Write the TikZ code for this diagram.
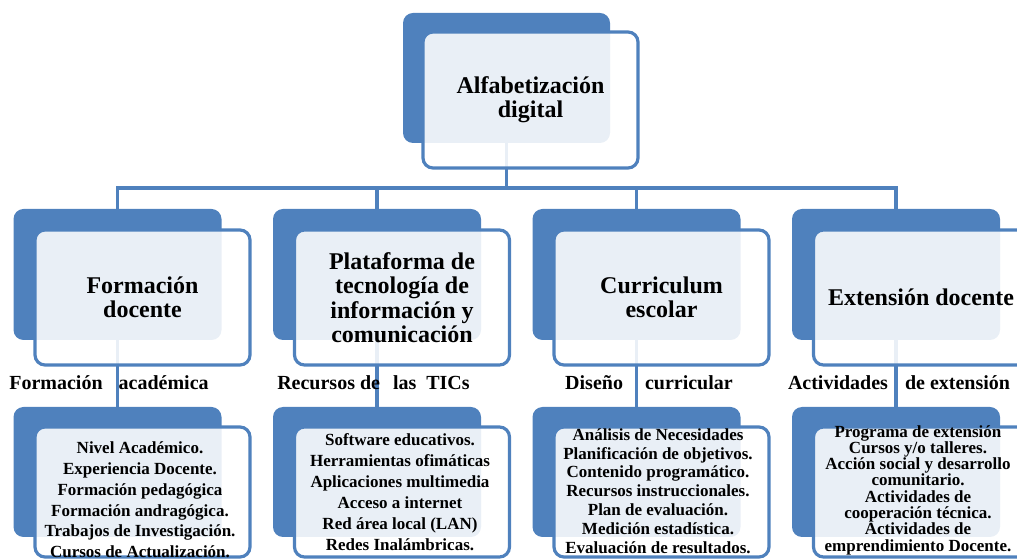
\documentclass[tikz,border=0pt]{standalone}
\usepackage{fontspec}
\setmainfont{Liberation Serif}
\definecolor{ofblue}{HTML}{4F81BD}

\begin{document}
\begin{tikzpicture}[x=0.5pt,y=-0.5pt,
    back/.style={fill=ofblue,rounded corners=5pt,minimum width=104pt,
        minimum height=65.5pt,inner sep=0pt,outer sep=0pt},
    front/.style={draw=ofblue,line width=1.6pt,fill=white,fill opacity=0.88,
        text opacity=1,rounded corners=5pt,minimum width=107.5pt,
        minimum height=67.5pt,inner sep=0pt,align=center,
        font=\fontsize{12}{12.2}\selectfont\bfseries},
    conn/.style={draw=ofblue,line width=1.6pt},
    lbl/.style={inner sep=0pt,font=\fontsize{10}{12}\selectfont\bfseries},
    lst/.style={inner sep=0pt,align=center,font=\bfseries}
]
    \useasboundingbox (0,0) rectangle (1017,560);
    % back boxes
    \node[back,minimum height=65pt,minimum width=103.5pt] (alfa-b) at (506.5,78) {};
    \node[back] (fd-b) at (117.5,274.5) {};
    \node[back] (tic-b) at (377,274.5) {};
    \node[back] (cur-b) at (636.5,274.5) {};
    \node[back] (ext-b) at (896,274.5) {};
    \node[back,minimum height=65pt] (fdl-b) at (117.5,472) {};
    \node[back,minimum height=65pt] (ticl-b) at (377,472) {};
    \node[back,minimum height=65pt] (curl-b) at (636.5,472) {};
    \node[back,minimum height=65pt] (extl-b) at (896,472) {};
    % connectors
    \coordinate (bar) at (0,188);
    \foreach \n in {fd-b,tic-b,cur-b,ext-b}
        \draw[conn] (alfa-b.south) -- (alfa-b.south |- bar) -| (\n.north);
    \draw[conn] (fd-b.south) -- (fdl-b.north);
    \draw[conn] (tic-b.south) -- (ticl-b.north);
    \draw[conn] (cur-b.south) -- (curl-b.north);
    \draw[conn] (ext-b.south) -- (extl-b.north);
    % front boxes
    \node[front,minimum height=68pt] (alfa) at (530.5,100) {Alfabetización\\digital};
    \node[front] (fd) at (142.5,297.5) {Formación\\docente};
    \node[front] (tic) at (402,297.5) {Plataforma de\\tecnología de\\información y\\comunicación};
    \node[front] (cur) at (661.5,297.5) {Curriculum\\escolar};
    \node[front] (ext) at (921,297.5) {Extensión docente};
    \node[front,minimum height=65pt] (fdl) at (142.5,492) {};
    \node[front,minimum height=65pt] (ticl) at (402,492) {};
    \node[front,minimum height=65pt] (curl) at (661.5,492) {};
    \node[front,minimum height=65pt] (extl) at (921,492) {};
    % labels
    \node[lbl] (fd-t) at (109,383) {Formación\hspace{8pt}académica};
    \node[lbl] (tic-t) at (373.5,383) {Recursos de\hspace{6.5pt}las\hspace{5pt}TICs};
    \node[lbl] (cur-t) at (649,383) {Diseño\hspace{11pt}curricular};
    \node[lbl] (ext-t) at (899,383) {Actividades\hspace{8.5pt}de extensión};
    % lists
    \node[lst,font=\fontsize{8.5}{10.4}\selectfont\bfseries] (fd-l) at (140,500)
        {Nivel Académico.\\Experiencia Docente.\\Formación pedagógica\\
         Formación andragógica.\\Trabajos de Investigación.\\Cursos de Actualización.};
    \node[lst,font=\fontsize{8.5}{10.5}\selectfont\bfseries] (tic-l) at (400,492.5)
        {Software educativos.\\Herramientas ofimáticas\\Aplicaciones multimedia\\
         Acceso a internet\\Red área local (LAN)\\Redes Inalámbricas.};
    \node[lst,font=\fontsize{8.5}{9.4}\selectfont\bfseries] (cur-l) at (658,491)
        {Análisis de Necesidades\\Planificación de objetivos.\\Contenido programático.\\
         Recursos instruccionales.\\Plan de evaluación.\\Medición estadística.\\
         Evaluación de resultados.};
    \node[lst,font=\fontsize{8.5}{8.15}\selectfont\bfseries] (ext-l) at (918,490)
        {Programa de extensión\\Cursos y/o talleres.\\Acción social y desarrollo\\
         comunitario.\\Actividades de\\cooperación técnica.\\Actividades de\\
         emprendimiento Docente.};
\end{tikzpicture}
\end{document}
